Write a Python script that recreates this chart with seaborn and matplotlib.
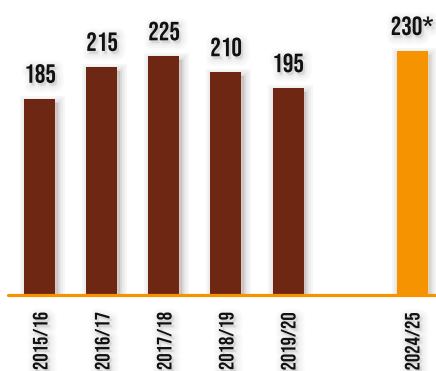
import matplotlib
matplotlib.use("Agg")
import matplotlib.pyplot as plt
import matplotlib.patheffects as pe
from matplotlib import font_manager
import seaborn as sns
import pandas as pd

# Season tallies; the last season is a provisional figure
seasons = ["2015/16", "2016/17", "2017/18", "2018/19", "2019/20", "2024/25"]
values = [185, 215, 225, 210, 195, 230]
value_labels = ["185", "215", "225", "210", "195", "230*"]
# gap in the axis between the older seasons and the latest one
axis_order = ["2015/16", "2016/17", "2017/18", "2018/19", "2019/20", " ", "2024/25"]

BROWN = "#6E2712"
ORANGE = "#F59300"

sns.set_theme(style="white")
names = {f.name for f in font_manager.fontManager.ttflist}
family = next((n for n in ["Bebas Neue", "Pathway Gothic One", "Oswald",
                           "Barlow Condensed", "DejaVu Sans"] if n in names))
plt.rcParams["font.family"] = [family, "DejaVu Sans"]

df = pd.DataFrame({"season": seasons, "value": values})
palette = {s: (ORANGE if s == "2024/25" else BROWN) for s in seasons}

fig = plt.figure(figsize=(4.36, 3.71), dpi=100)
ax = fig.add_axes([8 / 436, 76 / 371, 428 / 436, 295 / 371])

sns.barplot(data=df, x="season", y="value", hue="season", order=axis_order,
            palette=palette, width=0.5, legend=False, ax=ax, saturation=1)


def soft_shadow(dx=2, dy=-3, alpha=0.035):
    layers = [pe.Stroke(linewidth=w, foreground="black", alpha=alpha, offset=(dx, dy))
              for w in (10, 7, 4, 2)]
    return layers + [pe.Normal()]


for bar in ax.patches:
    bar.set_path_effects(soft_shadow())
    bar.set_edgecolor("none")

positions = [axis_order.index(s) for s in seasons]
for x, v, lab in zip(positions, values, value_labels):
    t = ax.text(x, v + 15, lab, ha="center", va="baseline", fontsize=19,
                color="#111111")
    t.set_path_effects(soft_shadow(1.5, -2, alpha=0.02))

ax.axhline(0, color=ORANGE, lw=2.3, clip_on=False, zorder=5)

ax.set_xlim(-0.516, 6.387)
ax.set_ylim(0, 278)
ax.set_xlabel("")
ax.set_ylabel("")
ax.set_yticks([])
ax.tick_params(axis="x", length=0, pad=12)
for lbl in ax.get_xticklabels():
    lbl.set_rotation(90)
    lbl.set_fontsize(15)
    lbl.set_color("#111111")
    lbl.set_va("top")
    lbl.set_path_effects(soft_shadow(1.5, -2, alpha=0.02))
for s in ax.spines.values():
    s.set_visible(False)
ax.patch.set_alpha(0)

fig.savefig("out.png", dpi=100)
